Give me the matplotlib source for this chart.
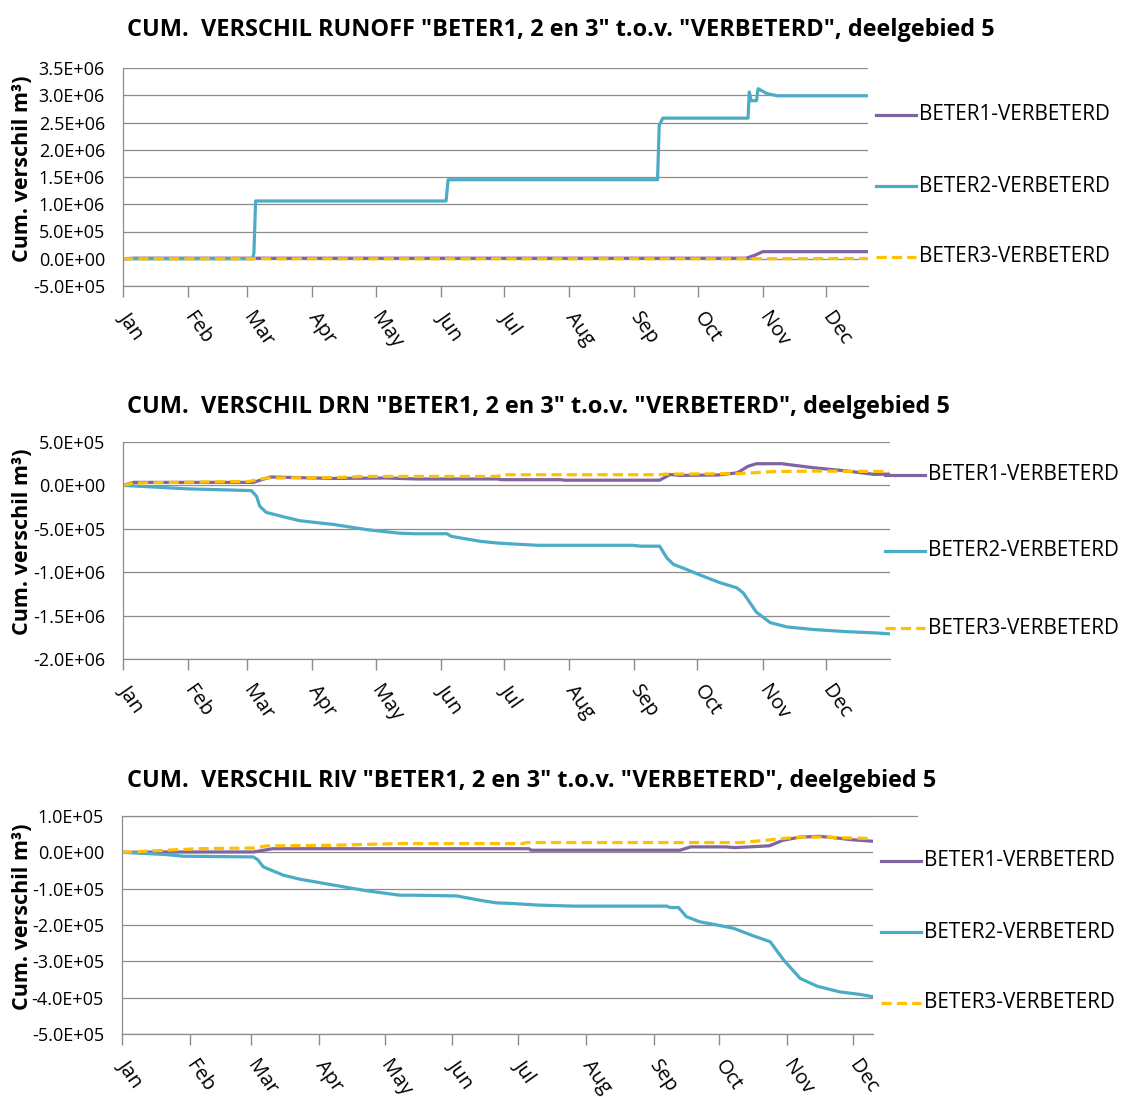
import matplotlib
matplotlib.use("Agg")
import matplotlib.pyplot as plt
from matplotlib.lines import Line2D
from matplotlib.ticker import FuncFormatter, MultipleLocator

plt.rcParams["font.family"] = ["Open Sans", "DejaVu Sans"]

W, H = 1124, 1097

months = ["Jan", "Feb", "Mar", "Apr", "May", "Jun",
          "Jul", "Aug", "Sep", "Oct", "Nov", "Dec"]
month_start = [0, 31, 59, 90, 120, 151, 181, 212, 243, 273, 304, 334]

names = ["BETER1-VERBETERD", "BETER2-VERBETERD", "BETER3-VERBETERD"]
colors = ["#8064A2", "#4BACC6", "#FFC000"]

# --- RUNOFF (day of year, cumulative difference m3) ---
runoff_b1_day = [0, 5, 296, 300, 304, 354]
runoff_b1 = [0, 1e4, 1e4, 6e4, 1.3e5, 1.3e5]
runoff_b2_day = [0, 61.5, 62.2, 63, 153.5, 154.5, 254, 254.8, 255.5, 256.5, 297,
                 297.6, 298.5, 301, 301.8, 306, 311, 354]
runoff_b2 = [0, 0, 1e5, 1.06e6, 1.06e6, 1.45e6, 1.45e6, 2.45e6, 2.5e6, 2.58e6, 2.58e6,
             3.06e6, 2.9e6, 2.9e6, 3.12e6, 3.03e6, 2.99e6, 2.99e6]
runoff_b3_day = [0, 300, 354]
runoff_b3 = [0, 0, 5e3]

# --- DRN ---
drn_b1_day = [0, 5, 62, 70, 100, 125, 140, 178, 180, 208, 210, 255, 260, 265, 283,
              292, 297, 301, 313, 328, 344, 357, 364]
drn_b1 = [0, 3.5e4, 3.5e4, 9.7e4, 8e4, 8.5e4, 7.4e4, 7.4e4, 6.6e4, 6.6e4, 6e4, 6e4,
          1.25e5, 1.15e5, 1.2e5, 1.45e5, 2.2e5, 2.5e5, 2.5e5, 2.04e5, 1.66e5, 1.27e5, 1.3e5]
drn_b2_day = [0, 31, 61, 63.5, 65, 68, 76, 84, 100, 116, 131, 138, 154, 156, 170, 178,
              185.5, 197, 242, 246, 255, 258.5, 261.6, 268, 274, 283.6, 291.7, 294.8,
              301, 307.5, 315.4, 328, 344, 358, 364]
drn_b2 = [0, -4e4, -6e4, -1.27e5, -2.4e5, -3.1e5, -3.6e5, -4.07e5, -4.5e5, -5.1e5,
          -5.5e5, -5.57e5, -5.57e5, -5.87e5, -6.45e5, -6.64e5, -6.75e5, -6.9e5, -6.9e5,
          -7.0e5, -7.0e5, -8.37e5, -9.1e5, -9.7e5, -1.03e6, -1.12e6, -1.18e6, -1.24e6,
          -1.46e6, -1.58e6, -1.63e6, -1.66e6, -1.685e6, -1.7e6, -1.71e6]
drn_b3_day = [0, 5, 60, 68, 100, 115, 178, 180, 255, 258, 292, 310, 330, 364]
drn_b3 = [0, 2.8e4, 4.6e4, 8.5e4, 9e4, 1.04e5, 1.04e5, 1.23e5, 1.23e5, 1.3e5, 1.35e5,
          1.6e5, 1.65e5, 1.6e5]

# --- RIV ---
riv_b1_day = [0, 20, 60, 69, 186, 187, 255, 260, 276, 280, 287, 296, 302, 310, 319,
              325, 333, 343]
riv_b1 = [0, 1e3, 1e3, 1e4, 1e4, 5.8e3, 5.8e3, 1.5e4, 1.5e4, 1.3e4, 1.5e4, 1.8e4,
          3.3e4, 4.2e4, 4.4e4, 4.07e4, 3.5e4, 3.05e4]
riv_b2_day = [0, 20, 28, 60, 62, 64.6, 73.8, 81.4, 96.6, 112, 127, 133, 153, 163.7,
              171, 179, 189.6, 206, 249, 250.6, 254.4, 258, 264, 272, 279.5, 288.7,
              296.3, 302.4, 310, 317.6, 328, 337.3, 343]
riv_b2 = [0, -6e3, -1.07e4, -1.26e4, -2e4, -4e4, -6.3e4, -7.4e4, -9e4, -1.06e5,
          -1.18e5, -1.18e5, -1.2e5, -1.32e5, -1.39e5, -1.41e5, -1.45e5, -1.48e5,
          -1.48e5, -1.52e5, -1.52e5, -1.77e5, -1.91e5, -2.0e5, -2.09e5, -2.3e5,
          -2.46e5, -2.96e5, -3.47e5, -3.68e5, -3.84e5, -3.91e5, -3.97e5]
riv_b3_day = [0, 20, 35, 60, 66, 97, 112, 127, 183, 185, 283, 294, 302, 310, 322, 330, 343]
riv_b3 = [0, 5.8e3, 1e4, 1.2e4, 1.76e4, 1.95e4, 2.2e4, 2.4e4, 2.4e4, 2.7e4, 2.7e4,
          3.3e4, 3.8e4, 4.2e4, 4.2e4, 4e4, 3.8e4]

title_tail = ' "BETER1, 2 en 3" t.o.v. "VERBETERD", deelgebied 5'

panels = [
    dict(title="CUM.  VERSCHIL RUNOFF" + title_tail, title_base=36.5,
         rect=(123, 68, 868, 286), xmax=354, ylim=(-5e5, 3.5e6), ystep=5e5,
         series=[(runoff_b1_day, runoff_b1), (runoff_b2_day, runoff_b2),
                 (runoff_b3_day, runoff_b3)],
         leg_x=876, leg_y=[115, 186, 257]),
    dict(title="CUM.  VERSCHIL DRN" + title_tail, title_base=413,
         rect=(123, 442, 890, 659), xmax=364.5, ylim=(-2e6, 5e5), ystep=5e5,
         series=[(drn_b1_day, drn_b1), (drn_b2_day, drn_b2), (drn_b3_day, drn_b3)],
         leg_x=885, leg_y=[475, 551, 628]),
    dict(title="CUM.  VERSCHIL RIV" + title_tail, title_base=787,
         rect=(122, 816, 873, 1034), xmax=343.3, ylim=(-5e5, 1e5), ystep=1e5,
         series=[(riv_b1_day, riv_b1), (riv_b2_day, riv_b2), (riv_b3_day, riv_b3)],
         leg_x=881, leg_y=[861, 932, 1003]),
]

grid_col = "#8C8C8C"
fig = plt.figure(figsize=(W / 100, H / 100), dpi=100)


def fx(px):
    return px / W


def fy(py):
    return 1 - py / H


for i, p in enumerate(panels):
    l, t, r, b = p["rect"]
    ax = fig.add_axes([fx(l), fy(b), (r - l) / W, (b - t) / H])

    for (days, vals), c, n in zip(p["series"], colors, names):
        ls = "--" if n.startswith("BETER3") else "-"
        line, = ax.plot(days, vals, color=c, lw=2.3, ls=ls, solid_joinstyle="round")
        if ls == "--":
            line.set_dashes((3.2, 1.6))

    ax.set_xlim(0, p["xmax"])
    ax.set_ylim(*p["ylim"])
    ax.yaxis.set_major_locator(MultipleLocator(p["ystep"]))
    ax.yaxis.set_major_formatter(FuncFormatter(lambda v, pos: f"{v:.1E}"))
    ax.set_xticks(month_start)
    ax.set_xticklabels(months, rotation=-55, ha="left", va="center",
                       rotation_mode="anchor", fontsize=14.5)
    ax.tick_params(axis="x", length=8, width=1, color=grid_col, pad=12)
    ax.tick_params(axis="y", length=0, pad=13, labelsize=13)

    ax.grid(axis="y", color=grid_col, lw=0.9)
    ax.set_axisbelow(True)
    for s in ("top", "right"):
        ax.spines[s].set_visible(False)
    for s in ("left", "bottom"):
        ax.spines[s].set_color(grid_col)
        ax.spines[s].set_linewidth(0.9)

    ax.set_ylabel("Cum. verschil m³)", fontsize=15.5, fontweight="bold")
    ax.yaxis.set_label_coords((33 - l) / (r - l), 0.54)

    fig.text(fx(127), fy(p["title_base"]), p["title"], fontsize=16.9,
             fontweight="bold", ha="left", va="baseline")

    # legend entries to the right of the plot
    for n, c, yy in zip(names, colors, p["leg_y"]):
        ls = "--" if n.startswith("BETER3") else "-"
        h = Line2D([fx(p["leg_x"]), fx(p["leg_x"] + 40)], [fy(yy), fy(yy)],
                   transform=fig.transFigure, color=c, lw=2.3, ls=ls)
        if ls == "--":
            h.set_dashes((3.2, 1.6))
        fig.add_artist(h)
        fig.text(fx(p["leg_x"] + 43), fy(yy), n, fontsize=14.9, ha="left", va="center")

    if i == 2:
        # top gridline runs on past the plot edge
        ax.plot([0, (917 - l) / (r - l)], [p["ylim"][1]] * 2, color=grid_col, lw=0.9,
                transform=ax.get_yaxis_transform(), clip_on=False)

fig.savefig("out.png", dpi=100)
